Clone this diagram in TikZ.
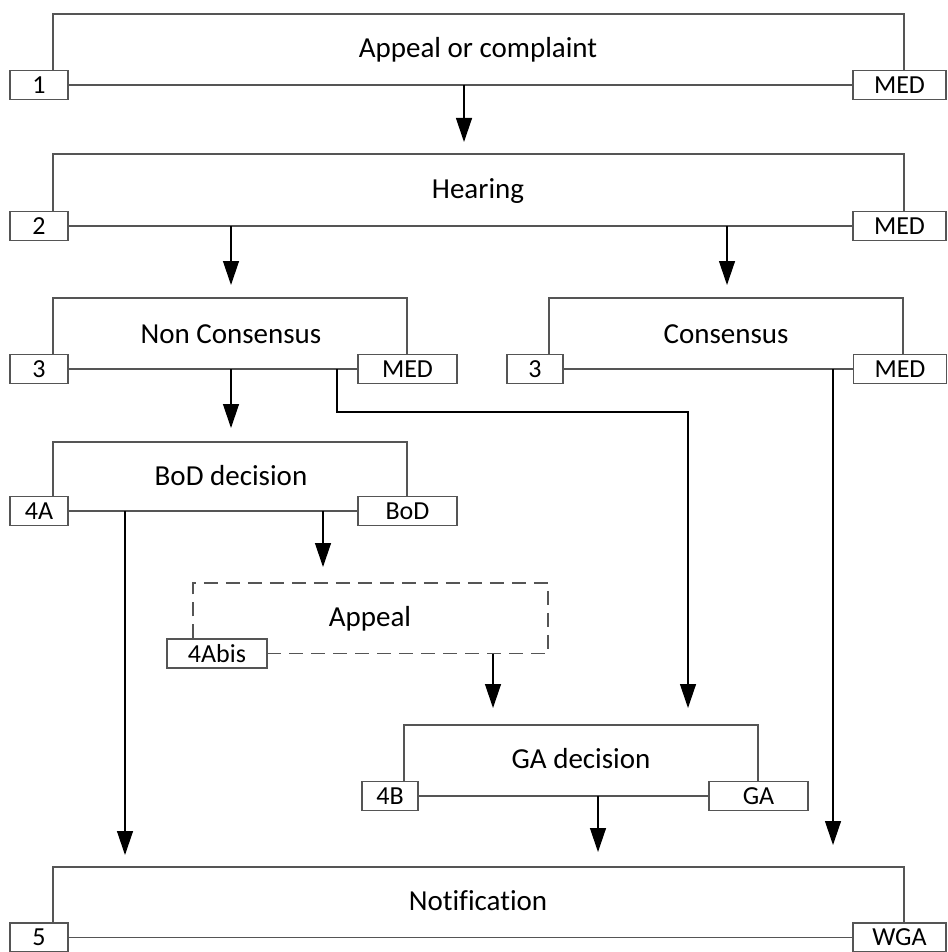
\documentclass[tikz,border=0pt]{standalone}
\usepackage{fontspec}
\setmainfont{Carlito}[Ligatures=NoCommon]
\usetikzlibrary{arrows.meta}
\definecolor{linegray}{HTML}{555555}
\tikzset{
 blk/.style={draw=linegray, line width=1.5pt},
 dblk/.style={draw=linegray, line width=1.5pt, dash pattern=on 14pt off 8pt},
 tagbox/.style={draw=linegray, line width=1.5pt, fill=white, minimum height=29pt, inner sep=0pt, font=\fontsize{26}{30}\selectfont},
 title/.style={anchor=base, inner sep=0pt, font=\fontsize{29}{34}\selectfont},
 arr/.style={draw=black, line width=1.3pt, -{Triangle[width=16pt,length=24pt]}},
}
\begin{document}
\begin{tikzpicture}[x=1pt,y=-1pt]
\useasboundingbox (0,0) rectangle (947,952);

% ---------- Block 1
\node[tagbox, minimum width=58pt] (t1L) at (39,85) {1};
\node[tagbox, minimum width=93pt] (t1R) at (899.5,85) {MED};
\coordinate (b1a) at (53,14); \coordinate (b1b) at (904,14);
\draw[blk] (b1a |- t1L.north) -- (b1a) -- (b1b) -- (b1b |- t1R.north);
\draw[blk] (t1L) -- (t1R);
\node[title] (n1) at (478,58) {Appeal or complaint};

% ---------- Block 2
\node[tagbox, minimum width=58pt] (t2L) at (39,226) {2};
\node[tagbox, minimum width=93pt] (t2R) at (899.5,226) {MED};
\coordinate (b2a) at (53,154); \coordinate (b2b) at (904,154);
\draw[blk] (b2a |- t2L.north) -- (b2a) -- (b2b) -- (b2b |- t2R.north);
\draw[blk] (t2L) -- (t2R);
\node[title] (n2) at (478,198) {Hearing};

% ---------- Non Consensus
\node[tagbox, minimum width=58pt] (t3L) at (39,369) {3};
\node[tagbox, minimum width=99pt] (t3R) at (407.5,369) {MED};
\coordinate (b3a) at (53,298); \coordinate (b3b) at (407,298);
\draw[blk] (b3a |- t3L.north) -- (b3a) -- (b3b) -- (b3b |- t3R.north);
\draw[blk] (t3L) -- (t3R);
\node[title] (n3) at (231,343) {Non Consensus};

% ---------- Consensus
\node[tagbox, minimum width=56pt] (c3L) at (535,369) {3};
\node[tagbox, minimum width=93pt] (c3R) at (900,369) {MED};
\coordinate (c3a) at (549,298); \coordinate (c3b) at (903,298);
\draw[blk] (c3a |- c3L.north) -- (c3a) -- (c3b) -- (c3b |- c3R.north);
\draw[blk] (c3L) -- (c3R);
\node[title] (nc) at (726,343) {Consensus};

% ---------- BoD decision
\node[tagbox, minimum width=58pt] (t4L) at (39,511) {4A};
\node[tagbox, minimum width=99pt] (t4R) at (407.5,511) {BoD};
\coordinate (b4a) at (53,442); \coordinate (b4b) at (407,442);
\draw[blk] (b4a |- t4L.north) -- (b4a) -- (b4b) -- (b4b |- t4R.north);
\draw[blk] (t4L) -- (t4R);
\node[title] (n4) at (231,485) {BoD decision};

% ---------- Appeal (dashed)
\node[tagbox, minimum width=100pt] (tAL) at (217,653.5) {4Abis};
\coordinate (bAa) at (193,583); \coordinate (bAb) at (548,583); \coordinate (bAc) at (548,653.5);
\draw[dblk] (bAa |- tAL.north) -- (bAa) -- (bAb) -- (bAc) -- (tAL.east);
\node[title] (nA) at (370,626) {Appeal};

% ---------- GA decision
\node[tagbox, minimum width=56pt] (tGL) at (390,796) {4B};
\node[tagbox, minimum width=99pt] (tGR) at (758.5,796) {GA};
\coordinate (bGa) at (404,725); \coordinate (bGb) at (758,725);
\draw[blk] (bGa |- tGL.north) -- (bGa) -- (bGb) -- (bGb |- tGR.north);
\draw[blk] (tGL) -- (tGR);
\node[title] (nG) at (581,768) {GA decision};

% ---------- Notification
\node[tagbox, minimum width=58pt] (t5L) at (39,937.5) {5};
\node[tagbox, minimum width=93pt] (t5R) at (899.5,937.5) {WGA};
\coordinate (b5a) at (53,867); \coordinate (b5b) at (904,867);
\draw[blk] (b5a |- t5L.north) -- (b5a) -- (b5b) -- (b5b |- t5R.north);
\draw[blk] (t5L) -- (t5R);
\node[title] (n5) at (478,910) {Notification};

% ---------- Connectors
\coordinate (s1) at (464,85);  \coordinate (e1) at (464,142);
\coordinate (s2) at (231,226); \coordinate (e2) at (231,285);
\coordinate (s3) at (727,226); \coordinate (e3) at (727,285);
\coordinate (s4) at (231,369); \coordinate (e4) at (231,428);
\coordinate (s5) at (337,369); \coordinate (k5) at (337,412); \coordinate (e5) at (688,708);
\coordinate (s6) at (833,369); \coordinate (e6) at (833,845);
\coordinate (s7) at (125,511); \coordinate (e7) at (125,855);
\coordinate (s8) at (323,511); \coordinate (e8) at (323,567);
\coordinate (s9) at (493,653.5); \coordinate (e9) at (493,708);
\coordinate (s10) at (598,796); \coordinate (e10) at (598,852);

\draw[arr] (s1) -- (e1);
\draw[arr] (s2) -- (e2);
\draw[arr] (s3) -- (e3);
\draw[arr] (s4) -- (e4);
\draw[arr] (s5) -- (k5) -| (e5);
\draw[arr] (s6) -- (e6);
\draw[arr] (s7) -- (e7);
\draw[arr] (s8) -- (e8);
\draw[arr] (s9) -- (e9);
\draw[arr] (s10) -- (e10);
\end{tikzpicture}
\end{document}
